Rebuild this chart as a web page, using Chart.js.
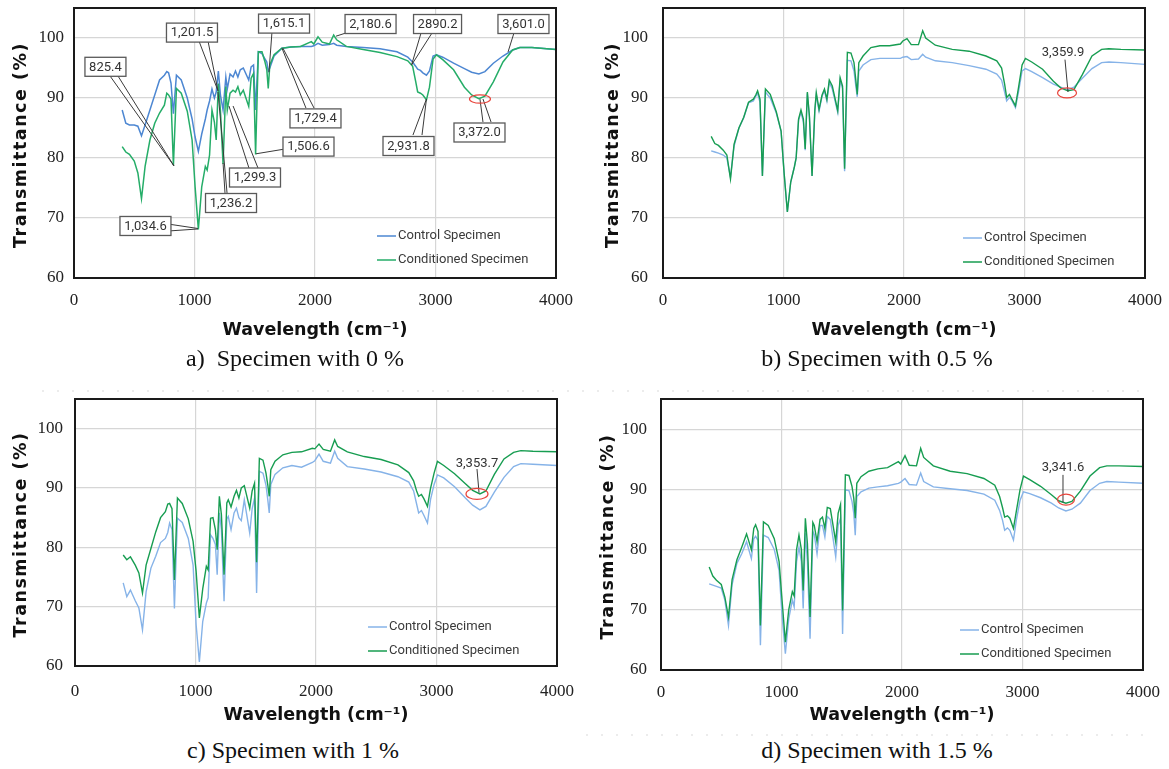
<!DOCTYPE html>
<html>
<head>
<meta charset="utf-8">
<title>FTIR spectra of control and conditioned specimens</title>
<script src="https://cdn.jsdelivr.net/npm/chart.js@4.4.1/dist/chart.umd.min.js"></script>
<style>
  html, body { margin: 0; padding: 0; background: #fff; }
  body { width: 1169px; height: 769px; position: relative; overflow: hidden; }
  .panel { position: absolute; }
  .panel canvas { display: block; }
  .caption {
    position: absolute; font-family: "Liberation Serif", "Times New Roman", serif;
    font-size: 24px; line-height: 28px; color: #111; white-space: pre;
    transform: translateX(-50%);
  }
  .dots {
    position: absolute; height: 2px;
    background: repeating-linear-gradient(90deg, #ececec 0 2px, transparent 2px 15px);
  }
</style>
</head>
<body>
<div class="panel" style="left:0;top:0"><canvas id="chartA" width="580" height="345"></canvas></div>
<div class="panel" style="left:580px;top:0"><canvas id="chartB" width="589" height="345"></canvas></div>
<div class="panel" style="left:0;top:390px"><canvas id="chartC" width="580" height="345"></canvas></div>
<div class="panel" style="left:580px;top:390px"><canvas id="chartD" width="589" height="345"></canvas></div>

<div class="caption" id="capA" style="left:295px;top:344px"></div>
<div class="caption" id="capB" style="left:877px;top:344px"></div>
<div class="caption" id="capC" style="left:293px;top:736px"></div>
<div class="caption" id="capD" style="left:877px;top:736px"></div>
<div class="dots" style="left:42px;top:390px;width:1110px"></div>
<div class="dots" style="left:586px;top:734px;width:560px"></div>

<script>
// Wavenumber grid shared by every spectrum (cm-1)
const wavenumbers = [
  400, 430, 460, 500, 530, 560, 590, 630, 670, 710,
  750, 770, 785, 805, 825, 850, 890, 940, 980, 1005,
  1032, 1060, 1090, 1105, 1125, 1145, 1165, 1180, 1198, 1215,
  1237, 1260, 1272, 1295, 1320, 1340, 1360, 1380, 1405, 1450,
  1470, 1490, 1507, 1530, 1560, 1585, 1600, 1612, 1625, 1660,
  1725, 1800, 1880, 1970, 1990, 2025, 2060, 2120, 2155, 2180,
  2260, 2400, 2540, 2680, 2770, 2810, 2835, 2852, 2875, 2895,
  2925, 2950, 2980, 3008, 3060, 3150, 3240, 3300, 3360, 3410,
  3480, 3560, 3640, 3700, 3800, 4000
];

// Transmittance (%) — specimen with 0 %
const control0 = [
  88.0, 85.8, 85.5, 85.5, 85.3, 83.7, 85.5, 88.0, 90.5, 93.0,
  93.8, 94.4, 94.2, 92.5, 87.4, 93.8, 93.0, 90.0, 86.5, 83.5,
  81.1, 84.0, 86.5, 88.0, 89.5, 91.5, 90.0, 91.0, 94.5, 90.5,
  88.0, 93.5, 91.5, 94.0, 93.5, 94.5, 93.5, 94.7, 95.0, 93.0,
  95.2, 95.5, 88.0, 97.7, 97.4, 96.5, 96.0, 94.5, 95.0, 97.0,
  98.3, 98.5, 98.6, 98.6, 98.7, 99.1, 98.8, 98.9, 99.1, 98.8,
  98.6, 98.4, 98.2, 97.7, 96.8, 96.0, 95.3, 94.8, 94.6, 94.2,
  93.8, 94.5, 97.0, 97.2, 96.8, 95.8, 94.9, 94.3, 94.0, 94.4,
  95.8, 97.0, 98.0, 98.4, 98.4, 98.1
];
const conditioned0 = [
  81.9, 81.0, 80.6, 79.5, 77.5, 73.2, 78.6, 83.0, 85.8, 87.5,
  88.8, 90.8, 90.5, 89.8, 78.8, 91.6, 90.8, 87.8, 83.0, 75.2,
  68.1, 75.2, 78.6, 78.0, 80.5, 88.0, 86.0, 83.0, 92.4, 88.0,
  79.0, 91.9, 88.0, 90.8, 91.3, 91.0, 91.9, 90.5, 91.3, 88.6,
  93.3, 94.1, 80.6, 97.7, 97.7, 96.0, 94.7, 91.6, 95.5, 97.2,
  98.3, 98.5, 98.6, 99.4, 99.0, 100.2, 99.3, 99.0, 100.5, 99.7,
  98.6, 98.1, 97.6, 96.9, 96.2, 95.3, 92.8, 91.0, 90.8, 90.5,
  89.7, 91.8, 96.5, 97.2, 96.4, 94.7, 91.8, 90.5, 89.9, 90.3,
  92.7, 96.0, 98.0, 98.4, 98.4, 98.1
];

// Transmittance (%) — specimen with 0.5 %
const control05 = [
  81.2, 81.0, 80.8, 80.5, 80.0, 76.8, 82.0, 85.0, 86.7, 89.2,
  89.5, 90.3, 90.8, 89.3, 77.0, 91.0, 90.0, 87.5, 84.5, 77.5,
  71.0, 76.0, 78.5, 80.0, 86.3, 87.6, 86.0, 81.3, 90.8, 86.8,
  77.0, 87.8, 90.5, 87.8, 90.3, 91.2, 89.5, 92.6, 91.5, 87.6,
  93.0, 91.6, 77.8, 96.3, 96.2, 94.5, 92.0, 90.2, 94.5, 95.5,
  96.4, 96.6, 96.6, 96.6, 96.8, 96.9, 96.4, 96.5, 97.3, 96.8,
  96.2, 95.9, 95.4, 94.8, 94.0, 93.0, 91.0, 89.5, 90.1, 89.6,
  88.4, 91.0, 94.5, 94.9, 94.4, 93.4, 92.3, 91.8, 91.4, 91.8,
  93.3, 94.9, 95.9, 96.0, 95.9, 95.6
];
const conditioned05 = [
  83.6, 82.4, 82.1, 81.3, 80.5, 76.5, 82.3, 85.0, 86.8, 89.3,
  89.8, 90.5, 91.2, 89.8, 77.0, 91.5, 90.6, 87.7, 84.5, 77.5,
  71.0, 76.0, 78.5, 80.0, 86.5, 88.0, 86.5, 81.5, 91.0, 87.0,
  77.0, 88.0, 90.9, 88.1, 90.5, 91.5, 89.8, 93.0, 92.0, 87.9,
  93.4, 92.0, 78.2, 97.6, 97.5, 95.9, 93.0, 90.6, 95.9, 97.0,
  98.4, 98.7, 98.7, 99.0, 99.5, 99.9, 98.9, 98.9, 101.2, 100.0,
  98.8, 98.1, 97.8, 97.0, 96.2, 95.0, 92.3, 90.1, 90.6, 89.8,
  88.7, 91.7, 95.5, 96.6, 96.0, 94.8, 92.8, 91.7, 91.2, 91.4,
  93.9, 97.0, 98.1, 98.2, 98.1, 98.0
];

// Transmittance (%) — specimen with 1 %
const control1 = [
  74.0, 71.7, 72.8, 71.0, 69.8, 66.1, 72.5, 76.5, 78.5, 80.8,
  81.5, 82.5, 84.1, 83.0, 69.7, 84.9, 84.2, 81.5, 77.0, 67.0,
  60.7, 67.5, 70.6, 71.5, 82.1, 81.5, 80.5, 75.4, 85.8, 83.0,
  70.9, 84.8, 85.2, 83.0, 85.8, 86.6, 85.0, 84.5, 88.0, 82.4,
  86.5, 88.3, 72.3, 92.8, 92.5, 90.5, 88.0, 85.8, 90.6, 92.3,
  93.4, 93.8, 93.5, 94.3, 94.6, 95.7, 94.5, 94.2, 96.2, 95.0,
  93.6, 93.2, 92.7, 91.9, 91.0, 89.5, 87.3, 85.8, 86.2, 85.4,
  84.1, 88.0, 90.6, 92.2, 91.7, 90.2, 88.3, 87.1, 86.3, 86.9,
  89.3, 91.8, 93.6, 94.1, 94.0, 93.8
];
const conditioned1 = [
  78.7, 77.9, 78.4, 77.0, 75.7, 72.3, 77.0, 79.8, 82.6, 85.0,
  86.0, 87.3, 87.4, 86.5, 74.5, 88.3, 87.4, 84.8, 81.0, 76.0,
  68.1, 73.0, 76.8, 76.2, 84.9, 85.0, 83.0, 79.6, 88.6, 85.5,
  75.4, 87.5, 88.0, 86.8, 88.6, 89.6, 88.3, 90.0, 90.4, 86.6,
  89.5, 90.8, 77.5, 95.0, 94.7, 92.5, 90.5, 88.6, 93.1, 94.5,
  95.6, 96.0, 96.1, 96.7, 96.6, 97.4, 96.5, 96.2, 98.1, 97.0,
  96.1, 95.3, 94.8, 93.9, 92.6, 91.2, 89.5, 88.6, 88.9, 88.2,
  86.9, 89.9, 92.5, 94.5, 93.8, 92.4, 90.7, 89.6, 89.0, 89.5,
  92.3, 94.9, 96.0, 96.3, 96.2, 96.1
];

// Transmittance (%) — specimen with 1.5 %
const control15 = [
  74.3, 74.1, 73.9, 73.6, 71.6, 67.4, 74.2, 77.7, 79.3, 81.3,
  78.5, 81.8, 82.2, 81.5, 64.1, 82.4, 82.0, 80.0, 76.5, 69.0,
  62.7, 68.5, 71.6, 70.5, 78.0, 80.4, 78.0, 70.2, 82.7, 78.0,
  65.2, 83.0, 82.5, 79.3, 84.0, 84.0, 82.1, 85.5, 85.0, 78.8,
  84.0, 85.2, 66.0, 89.9, 89.8, 88.0, 86.0, 82.4, 88.8, 89.6,
  90.2, 90.4, 90.6, 91.0, 91.2, 91.8, 90.8, 90.7, 92.7, 91.3,
  90.4, 90.1, 89.8, 89.2, 88.2, 86.5, 84.8, 83.2, 83.6, 83.2,
  81.6, 85.0, 88.2, 89.6, 89.3, 88.6, 87.7, 86.9, 86.4, 86.7,
  87.7, 89.8, 91.0, 91.3, 91.2, 91.0
];
const conditioned15 = [
  77.1, 75.6, 74.9, 74.2, 72.1, 68.8, 75.0, 78.3, 80.4, 82.6,
  80.0, 83.5, 84.1, 83.0, 67.4, 84.6, 84.0, 81.8, 78.0, 71.5,
  64.6, 70.0, 73.0, 72.3, 80.0, 82.4, 80.0, 73.2, 85.2, 81.0,
  68.8, 84.5, 84.0, 81.3, 85.0, 85.4, 83.5, 87.0, 86.8, 81.3,
  86.0, 87.5, 69.9, 92.4, 92.3, 90.5, 88.5, 85.2, 91.0, 92.1,
  93.0, 93.4, 93.6, 94.6, 94.2, 95.6, 94.0, 93.9, 96.8, 95.3,
  93.9, 93.0, 92.6, 91.8, 90.7, 88.8, 86.9, 85.4, 85.6, 85.2,
  83.5, 86.5, 90.0, 92.2, 91.6, 90.5, 89.1, 88.1, 87.7, 88.0,
  89.7, 92.2, 93.6, 93.9, 93.9, 93.8
];

// Axis ticks and text
const xTickValues = [0, 1000, 2000, 3000, 4000];
const yTickValues = [60, 70, 80, 90, 100];
const seriesNames = ['Control Specimen', 'Conditioned Specimen'];
const xAxisTitle = 'Wavelength (cm\u207B\u00B9)';
const yAxisTitle = 'Transmittance (%)';
const captions = ['a)  Specimen with 0 %', 'b) Specimen with 0.5 %', 'c) Specimen with 1 %', 'd) Specimen with 1.5 %'];

// Peak callouts, in data units: box centre [wavenumber, %T] and leader segments
const peakNotes0 = [
  { text: '825.4',   at: [261, 95.2],   lines: [[299, 93.67, 830, 78.67], [365, 93.67, 830, 78.67]] },
  { text: '1,201.5', at: [979, 100.9],  lines: [[1037, 99.5, 1195, 91.2], [1112, 99.5, 1195, 91.2]] },
  { text: '1,615.1', at: [1743, 102.4], lines: [[1643, 101.0, 1618, 94.3]] },
  { text: '1,729.4', at: [2004, 86.6],  lines: [[1925, 88.33, 1726, 98.3], [1992, 88.33, 1734, 98.3]] },
  { text: '1,506.6', at: [1946, 81.9],  lines: [[1751, 81.5, 1510, 80.7]] },
  { text: '1,299.3', at: [1502, 76.75], lines: [[1452, 78.33, 1286, 88.67], [1527, 78.33, 1320, 88.67]] },
  { text: '1,236.2', at: [1303, 72.5],  lines: [[1253, 74.17, 1237, 79.17], [1270, 74.17, 1195, 91.0]] },
  { text: '1,034.6', at: [593, 68.67],  lines: [[780, 69.0, 1029, 68.25], [780, 67.83, 1029, 68.17]] },
  { text: '2,180.6', at: [2461, 102.33], lines: [[2282, 101.0, 2174, 100.3]] },
  { text: '2890.2',  at: [3017, 102.33], lines: [[2880, 100.83, 2801, 95.5], [2971, 100.83, 2801, 95.5]] },
  { text: '3,601.0', at: [3730, 102.33], lines: [[3651, 100.83, 3602, 97.67]] },
  { text: '2,931.8', at: [2776, 82.0],  lines: [[2813, 83.83, 2925, 89.83], [2888, 83.83, 2925, 89.83]] },
  { text: '3,372.0', at: [3365, 84.25], lines: [[3394, 86.0, 3369, 89.83], [3461, 86.0, 3394, 89.83]] }
];
const ohRing0 = [3369, 89.83];
const peakNotes05 = [{ text: '3,359.9', at: [3320, 97.7], lines: [[3336, 96.4, 3361, 91.0]] }];
const ohRing05 = [3353, 90.85];
const peakNotes1 = [{ text: '3,353.7', at: [3336, 94.2], lines: [[3336, 93.2, 3353, 89.2]] }];
const ohRing1 = [3336, 89.0];
const peakNotes15 = [{ text: '3,341.6', at: [3336, 93.7], lines: [[3336, 92.4, 3336, 87.8]] }];
const ohRing15 = [3361, 88.3];

// Panel layout (canvas pixels)
const panels = [
  { id: 'chartA', cap: 'capA', caption: captions[0], w: 580, h: 345, area: { l: 74, t: 8, r: 556, b: 278 },
    yTickPad: 10, xTickPad: 12.8, xTitlePad: 4.5, yTitleX: 21,
    control: control0, conditioned: conditioned0, blue: '#4d87d2', green: '#25ad68', lw: 1.5,
    notes: peakNotes0, boxed: true, ring: ohRing0, ringR: [10.5, 4.2], legendAt: [377, 236] },
  { id: 'chartB', cap: 'capB', caption: captions[1], w: 589, h: 345, area: { l: 83, t: 8, r: 565, b: 278 },
    yTickPad: 15, xTickPad: 12.8, xTitlePad: 4.5, yTitleX: 33,
    control: control05, conditioned: conditioned05, blue: '#86b3e8', green: '#179d51', lw: 1.4,
    notes: peakNotes05, boxed: false, ring: ohRing05, ringR: [9.5, 5], legendAt: [383, 238] },
  { id: 'chartC', cap: 'capC', caption: captions[2], w: 580, h: 345, area: { l: 75, t: 9, r: 557, b: 276 },
    yTickPad: 12, xTickPad: 15.8, xTitlePad: 9, yTitleX: 21,
    control: control1, conditioned: conditioned1, blue: '#86b3e8', green: '#179d51', lw: 1.4,
    notes: peakNotes1, boxed: false, ring: ohRing1, ringR: [11, 5.5], legendAt: [368, 237] },
  { id: 'chartD', cap: 'capD', caption: captions[3], w: 589, h: 345, area: { l: 81, t: 9, r: 563, b: 280 },
    yTickPad: 14, xTickPad: 12.3, xTitlePad: 9.5, yTitleX: 28,
    control: control15, conditioned: conditioned15, blue: '#86b3e8', green: '#179d51', lw: 1.4,
    notes: peakNotes15, boxed: false, ring: ohRing15, ringR: [8.5, 5.5], legendAt: [380, 240] }
];

// Frame, rotated y title, legend, peak callouts and O–H ring
function decorations(panel) {
  return {
    id: 'panelDecor',
    afterDraw(chart) {
      const { ctx, chartArea: a } = chart;
      const xs = chart.scales.x, ys = chart.scales.y;
      const px = v => xs.getPixelForValue(v);
      const py = v => ys.getPixelForValue(v);
      ctx.save();

      ctx.strokeStyle = '#1a1a1a';
      ctx.lineWidth = 2;
      ctx.strokeRect(a.left, a.top, a.right - a.left, a.bottom - a.top);

      ctx.save();
      ctx.translate(panel.yTitleX, (a.top + a.bottom) / 2 + 2);
      ctx.rotate(-Math.PI / 2);
      ctx.font = 'bold 17.5px "DejaVu Sans", sans-serif';
      ctx.letterSpacing = '1.5px';
      ctx.fillStyle = '#111';
      ctx.textAlign = 'center';
      ctx.textBaseline = 'middle';
      ctx.fillText(yAxisTitle, 0, 0);
      ctx.restore();

      const legendItems = [[panel.blue, seriesNames[0]], [panel.green, seriesNames[1]]];
      legendItems.forEach(([color, label], i) => {
        const lx = panel.legendAt[0], ly = panel.legendAt[1] + i * 24;
        ctx.strokeStyle = color;
        ctx.lineWidth = 1.5;
        ctx.beginPath(); ctx.moveTo(lx, ly); ctx.lineTo(lx + 19, ly); ctx.stroke();
        ctx.fillStyle = '#3a3a3a';
        ctx.font = '13px Roboto, sans-serif';
        ctx.textAlign = 'left';
        ctx.textBaseline = 'middle';
        ctx.fillText(label, lx + 21, ly);
      });

      ctx.strokeStyle = '#3a3a3a';
      ctx.lineWidth = 1;
      panel.notes.forEach(n => n.lines.forEach(([x1, y1, x2, y2]) => {
        ctx.beginPath(); ctx.moveTo(px(x1), py(y1)); ctx.lineTo(px(x2), py(y2)); ctx.stroke();
      }));
      ctx.font = '13px Roboto, sans-serif';
      ctx.textAlign = 'center';
      ctx.textBaseline = 'middle';
      panel.notes.forEach(n => {
        const cx = px(n.at[0]), cy = py(n.at[1]);
        if (panel.boxed) {
          const bw = Math.round(ctx.measureText(n.text).width + 8), bh = 19;
          ctx.fillStyle = '#fff';
          ctx.fillRect(cx - bw / 2, cy - bh / 2, bw, bh);
          ctx.strokeStyle = '#5a5a5a';
          ctx.lineWidth = 1.3;
          ctx.strokeRect(cx - bw / 2, cy - bh / 2, bw, bh);
        }
        ctx.fillStyle = '#333';
        ctx.fillText(n.text, cx, cy + 0.5);
      });

      ctx.strokeStyle = '#e8453c';
      ctx.lineWidth = 1.2;
      ctx.beginPath();
      ctx.ellipse(px(panel.ring[0]), py(panel.ring[1]), panel.ringR[0], panel.ringR[1], 0, 0, Math.PI * 2);
      ctx.stroke();
      ctx.restore();
    }
  };
}

const toPoints = vals => wavenumbers.map((w, i) => ({ x: w, y: vals[i] }));

panels.forEach(panel => {
  document.getElementById(panel.cap).textContent = panel.caption;
  new Chart(document.getElementById(panel.id), {
    type: 'line',
    data: {
      datasets: [
        { label: seriesNames[1], data: toPoints(panel.conditioned), borderColor: panel.green, order: 0 },
        { label: seriesNames[0], data: toPoints(panel.control), borderColor: panel.blue, order: 1 }
      ]
    },
    options: {
      responsive: false,
      animation: false,
      devicePixelRatio: 1,
      layout: { padding: { left: 0, top: panel.area.t, right: panel.w - panel.area.r, bottom: 0 } },
      elements: {
        point: { radius: 0 },
        line: { borderWidth: panel.lw, tension: 0, fill: false }
      },
      plugins: { legend: { display: false }, tooltip: { enabled: false } },
      scales: {
        x: {
          type: 'linear', min: 0, max: 4000,
          afterBuildTicks: s => { s.ticks = xTickValues.map(v => ({ value: v })); },
          afterFit: s => {
            s.height = panel.h - panel.area.b;
            s.paddingLeft = 0; s.paddingRight = 0;
          },
          grid: { color: '#d6d6d6', lineWidth: 1.2, drawTicks: false },
          border: { display: false },
          ticks: {
            padding: panel.xTickPad, maxRotation: 0, color: '#222',
            font: { family: '"Liberation Serif", serif', size: 17 },
            callback: v => String(v)
          },
          title: {
            display: true, text: xAxisTitle, color: '#111',
            font: { family: '"DejaVu Sans", sans-serif', size: 17.5, weight: 'bold' },
            padding: { top: 0, bottom: panel.xTitlePad }
          }
        },
        y: {
          type: 'linear', min: 60, max: 105,
          afterBuildTicks: s => { s.ticks = yTickValues.map(v => ({ value: v })); },
          afterFit: s => {
            s.width = panel.area.l;
            s.paddingTop = 0; s.paddingBottom = 0;
          },
          grid: { color: '#d6d6d6', lineWidth: 1.2, drawTicks: false },
          border: { display: false },
          ticks: {
            padding: panel.yTickPad, color: '#222',
            font: { family: '"Liberation Serif", serif', size: 17 },
            callback: v => String(v)
          }
        }
      }
    },
    plugins: [decorations(panel)]
  });
});
</script>
</body>
</html>
